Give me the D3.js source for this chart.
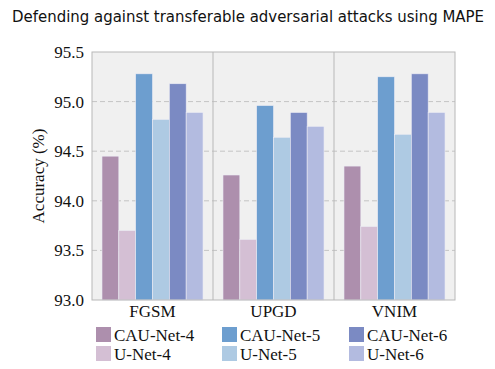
<!DOCTYPE html>
<html>
<head>
<meta charset="utf-8">
<script src="https://cdn.jsdelivr.net/npm/d3@7"></script>
<style>
  body { margin: 0; background: #fff; }
</style>
</head>
<body>
<div id="chart"></div>
<script>
// Data
var attacks = ["FGSM", "UPGD", "VNIM"];
var models = ["CAU-Net-4", "U-Net-4", "CAU-Net-5", "U-Net-5", "CAU-Net-6", "U-Net-6"];
var cauNet4 = [94.45, 94.26, 94.35];
var uNet4 = [93.70, 93.61, 93.74];
var cauNet5 = [95.28, 94.96, 95.25];
var uNet5 = [94.82, 94.64, 94.67];
var cauNet6 = [95.18, 94.89, 95.28];
var uNet6 = [94.89, 94.75, 94.89];
var yTicks = [93.0, 93.5, 94.0, 94.5, 95.0, 95.5];
var colors = ["#ad8fad", "#d4bfd4", "#6d9ecf", "#aecae3", "#7b8ac3", "#b3bbe0"];

var series = [cauNet4, uNet4, cauNet5, uNet5, cauNet6, uNet6];

var W = 495, H = 369;
var margin = { top: 52, right: 40, bottom: 69, left: 92 },
    width = W - margin.left - margin.right,
    height = H - margin.top - margin.bottom;

var svg = d3.select("#chart").append("svg")
    .attr("width", W).attr("height", H);

var serif = "Liberation Serif", fs = "17px";

// Title
svg.append("text")
    .attr("x", 12).attr("y", 22)
    .attr("textLength", 472)
    .attr("lengthAdjust", "spacingAndGlyphs")
    .style("font-family", "DejaVu Sans")
    .style("font-size", "15px")
    .style("fill", "#111")
    .text("Defending against transferable adversarial attacks using MAPE");

var g = svg.append("g")
    .attr("transform", "translate(" + margin.left + "," + margin.top + ")");

var x0 = d3.scaleBand().domain(attacks).range([0, width]).paddingInner(0).paddingOuter(0);
var x1 = d3.scaleBand().domain(models).range([10, x0.bandwidth() - 10]);
var y = d3.scaleLinear().domain([93, 95.5]).range([height, 0]);

// Background
g.append("rect")
    .attr("width", width).attr("height", height)
    .style("fill", "#f0f0f0");

// Dashed grid
g.selectAll(".grid")
    .data(yTicks.filter(function(t) { return t > 93 && t < 95.5; }))
    .enter().append("line")
    .attr("x1", 0).attr("x2", width)
    .attr("y1", function(d) { return y(d); })
    .attr("y2", function(d) { return y(d); })
    .style("stroke", "#c4c4c4")
    .style("stroke-width", 1)
    .style("stroke-dasharray", "5,3");

// Group separators
g.selectAll(".sep")
    .data(attacks.slice(1))
    .enter().append("line")
    .attr("x1", function(d) { return x0(d); })
    .attr("x2", function(d) { return x0(d); })
    .attr("y1", 0).attr("y2", height)
    .style("stroke", "#b8b8b8")
    .style("stroke-width", 1);

// Bars
var rows = [];
attacks.forEach(function(a, i) {
    models.forEach(function(m, j) {
        rows.push({ attack: a, model: m, value: series[j][i], color: colors[j] });
    });
});

g.selectAll(".bar")
    .data(rows)
    .enter().append("rect")
    .attr("x", function(d) { return x0(d.attack) + x1(d.model); })
    .attr("y", function(d) { return y(d.value); })
    .attr("width", x1.bandwidth())
    .attr("height", function(d) { return height - y(d.value); })
    .style("fill", function(d) { return d.color; })
    .style("stroke", "#ececf4")
    .style("stroke-width", 0.6);

// Frame
g.append("rect")
    .attr("width", width).attr("height", height)
    .style("fill", "none")
    .style("stroke", "#b8b8b8")
    .style("stroke-width", 1);

// Y axis
var yAxis = g.append("g")
    .call(d3.axisLeft(y).tickValues(yTicks).tickFormat(d3.format(".1f")).tickSize(0).tickPadding(8));
yAxis.select(".domain").remove();
yAxis.selectAll("text")
    .style("font-family", serif)
    .style("font-size", fs)
    .style("fill", "#111");

// X axis labels
var xAxis = g.append("g")
    .attr("transform", "translate(0," + height + ")")
    .call(d3.axisBottom(x0).tickSize(0).tickPadding(5));
xAxis.select(".domain").remove();
xAxis.selectAll("text")
    .style("font-family", serif)
    .style("font-size", fs)
    .style("fill", "#111");

// Y label
svg.append("text")
    .attr("transform", "translate(44," + (margin.top + height / 2) + ") rotate(-90)")
    .attr("text-anchor", "middle")
    .style("font-family", serif)
    .style("font-size", fs)
    .style("fill", "#111")
    .text("Accuracy (%)");

// Legend: 3 columns x 2 rows
var legendX = [96, 222, 349], legendY = [327, 346];
var legend = svg.selectAll(".legend")
    .data(models)
    .enter().append("g")
    .attr("transform", function(d, i) {
        return "translate(" + legendX[Math.floor(i / 2)] + "," + legendY[i % 2] + ")";
    });
legend.append("rect")
    .attr("width", 15).attr("height", 15)
    .style("fill", function(d, i) { return colors[i]; });
legend.append("text")
    .attr("x", 18).attr("y", 14)
    .style("font-family", serif)
    .style("font-size", fs)
    .style("fill", "#111")
    .text(function(d) { return d; });
</script>
</body>
</html>
